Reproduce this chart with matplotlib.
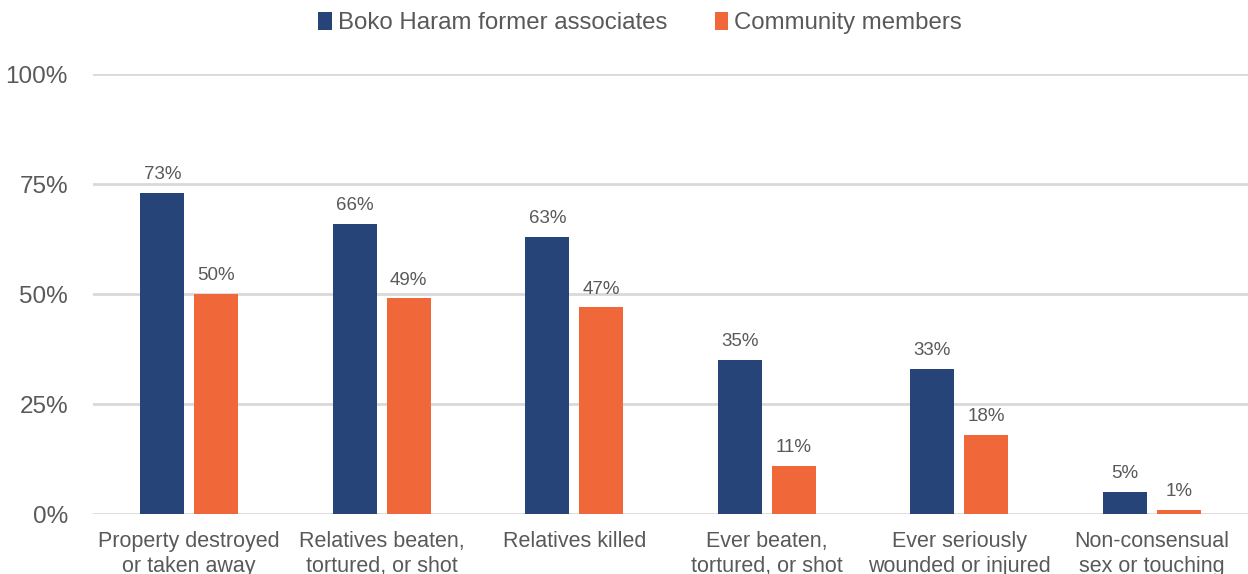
import matplotlib
matplotlib.use("Agg")
import matplotlib.pyplot as plt
import numpy as np

categories = [
    "Property destroyed\nor taken away",
    "Relatives beaten,\ntortured, or shot",
    "Relatives killed",
    "Ever beaten,\ntortured, or shot",
    "Ever seriously\nwounded or injured",
    "Non-consensual\nsex or touching",
]
former_associates = [73, 66, 63, 35, 33, 5]
community_members = [50, 49, 47, 11, 18, 1]
series_names = ["Boko Haram former associates", "Community members"]
y_ticks = [0, 25, 50, 75, 100]

BLUE = "#264478"
ORANGE = "#F0673A"
TEXT = "#595959"
GRID = "#D9D9D9"

plt.rcParams["font.family"] = ["Liberation Sans", "DejaVu Sans"]

fig = plt.figure(figsize=(12.48, 5.74), dpi=100)
ax = fig.add_axes([0.0745, 0.1045, 0.9255, 0.7665])

x = np.arange(len(categories))
w = 0.229
off = 0.14
b1 = ax.bar(x - off, former_associates, w, color=BLUE, label=series_names[0], zorder=3)
b2 = ax.bar(x + off, community_members, w, color=ORANGE, label=series_names[1], zorder=3)

for bars, vals in ((b1, former_associates), (b2, community_members)):
    for rect, v in zip(bars, vals):
        ax.annotate(f"{v}%", (rect.get_x() + rect.get_width() / 2, v),
                    xytext=(0, 7), textcoords="offset points",
                    ha="center", va="bottom", fontsize=13.5, color=TEXT)

ax.set_xlim(-0.5, len(categories) - 0.5)
ax.set_ylim(0, 100)
ax.set_yticks(y_ticks)
ax.set_yticklabels([f"{t}%" for t in y_ticks])
ax.yaxis.grid(True, color=GRID, linewidth=2)
ax.set_axisbelow(True)
for s in ax.spines.values():
    s.set_visible(False)
ax.tick_params(axis="y", length=0, pad=18, labelsize=17.5, labelcolor=TEXT)
ax.tick_params(axis="x", length=0, pad=12, labelsize=15.5, labelcolor=TEXT)
ax.set_xticks(x)
ax.set_xticklabels(categories, linespacing=1.3)

fig.legend(handles=[b1, b2], labels=series_names, loc="center",
           bbox_to_anchor=(0.513, 0.96), ncol=2, frameon=False,
           fontsize=17.3, labelcolor=TEXT, handlelength=0.55, handleheight=0.8,
           handletextpad=0.25, columnspacing=2.0)

fig.savefig("out.png", dpi=100)
